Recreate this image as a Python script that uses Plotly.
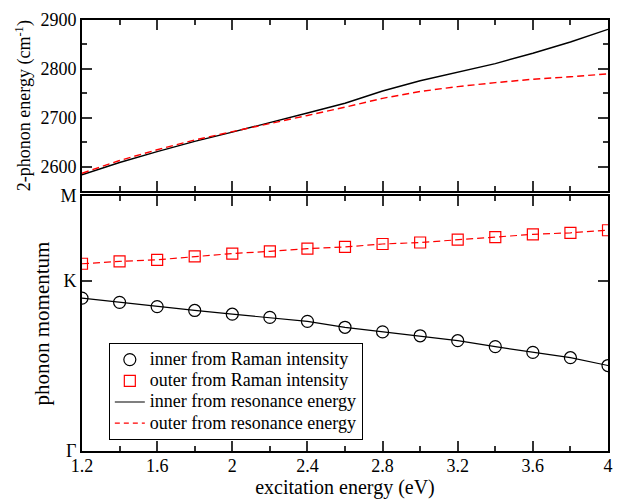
import plotly.graph_objects as go
from plotly.subplots import make_subplots

# excitation energies (eV)
energy = [1.2, 1.4, 1.6, 1.8, 2.0, 2.2, 2.4, 2.6, 2.8, 3.0, 3.2, 3.4, 3.6, 3.8, 4.0]

# top panel: 2-phonon energy (cm^-1)
inner_2ph = [2584, 2609, 2631, 2652, 2671, 2690, 2710, 2730, 2755, 2776, 2794, 2811, 2832, 2855, 2881]
outer_2ph = [2587, 2613, 2635, 2655, 2672, 2688, 2705, 2722, 2740, 2754, 2764, 2772, 2779, 2784, 2790]

# bottom panel: phonon momentum (Gamma = 0, K = 1, M = 1.5)
inner_q = [0.900, 0.875, 0.850, 0.827, 0.805, 0.786, 0.763, 0.728, 0.701, 0.678, 0.649, 0.614, 0.580, 0.549, 0.503]
outer_q = [1.102, 1.116, 1.125, 1.145, 1.162, 1.175, 1.191, 1.201, 1.218, 1.227, 1.244, 1.258, 1.275, 1.284, 1.299]

q_tickvals = [0, 1, 1.5]
q_ticktext = ["Γ", "K", "M"]

legend_names = ["inner from Raman intensity", "outer from Raman intensity",
                "inner from resonance energy", "outer from resonance energy"]

FONT = "Liberation Serif"
RED = "#ff0000"


def lg(name):
    return '<span style="font-size:18px">' + name + '</span>'


fig = make_subplots(rows=2, cols=1, shared_xaxes=False,
                    row_heights=[0.402, 0.598], vertical_spacing=0.011)

# top panel
fig.add_trace(go.Scatter(x=energy, y=inner_2ph, mode="lines",
                         line=dict(color="black", width=1.4), showlegend=False), row=1, col=1)
fig.add_trace(go.Scatter(x=energy, y=outer_2ph, mode="lines",
                         line=dict(color=RED, width=1.4, dash="7px,4px"), showlegend=False), row=1, col=1)

# bottom panel lines
fig.add_trace(go.Scatter(x=energy, y=inner_q, mode="lines",
                         line=dict(color="black", width=1.2), showlegend=False), row=2, col=1)
fig.add_trace(go.Scatter(x=energy, y=outer_q, mode="lines",
                         line=dict(color=RED, width=1.2, dash="7px,4px"), showlegend=False), row=2, col=1)
# bottom panel markers
fig.add_trace(go.Scatter(x=energy, y=inner_q, mode="markers", name=lg(legend_names[0]),
                         marker=dict(symbol="circle-open", size=12, color="black", line=dict(width=1.2))),
              row=2, col=1)
fig.add_trace(go.Scatter(x=energy, y=outer_q, mode="markers", name=lg(legend_names[1]),
                         marker=dict(symbol="square-open", size=11, color=RED, line=dict(width=1.2))),
              row=2, col=1)
# legend-only line entries
fig.add_trace(go.Scatter(x=[None], y=[None], mode="lines", name=lg(legend_names[2]),
                         line=dict(color="black", width=1.2)), row=2, col=1)
fig.add_trace(go.Scatter(x=[None], y=[None], mode="lines", name=lg(legend_names[3]),
                         line=dict(color=RED, width=1.2, dash="5px,4px")), row=2, col=1)

axis_common = dict(showline=True, linecolor="black", linewidth=2, mirror="allticks",
                   ticks="inside", ticklen=10, tickwidth=1.5, tickcolor="#333333",
                   showgrid=False, zeroline=False,
                   tickfont=dict(family=FONT, size=18, color="black"))

fig.update_xaxes(range=[1.2, 4.0], dtick=0.4, tick0=1.2,
                 minor=dict(ticks="inside", ticklen=5, dtick=0.2, tick0=1.2, tickcolor="#333333", tickwidth=1.5),
                 **axis_common)
fig.update_xaxes(showticklabels=False, row=1, col=1)
fig.update_xaxes(ticklabelstandoff=-3,
                 title=dict(text="excitation energy (eV)", font=dict(family=FONT, size=20, color="black"),
                            standoff=7), row=2, col=1)

fig.update_yaxes(**axis_common)
fig.update_yaxes(range=[2550, 2900], dtick=100, tick0=2600,
                 minor=dict(ticks="inside", ticklen=5, dtick=50, tickcolor="#333333", tickwidth=1.5),
                 title=dict(text="2-phonon energy (cm<sup>-1</sup>)", font=dict(family=FONT, size=18, color="black"),
                            standoff=5),
                 row=1, col=1)
fig.update_yaxes(range=[0, 1.5], tickmode="array", tickvals=q_tickvals, ticktext=q_ticktext,
                 title=dict(text="phonon momentum", font=dict(family=FONT, size=21, color="black"),
                            standoff=5),
                 row=2, col=1)

fig.update_layout(
    width=622, height=491,
    margin=dict(l=74, r=22, t=2, b=46),
    plot_bgcolor="white", paper_bgcolor="white",
    font=dict(family=FONT, size=16, color="black"),
    legend=dict(x=0.051, y=0.2506, xanchor="left", yanchor="top",
                bgcolor="white", bordercolor="black", borderwidth=1,
                font=dict(family=FONT, size=14, color="black"),
                itemwidth=30, tracegroupgap=0),
)

fig.write_html("out.html")
